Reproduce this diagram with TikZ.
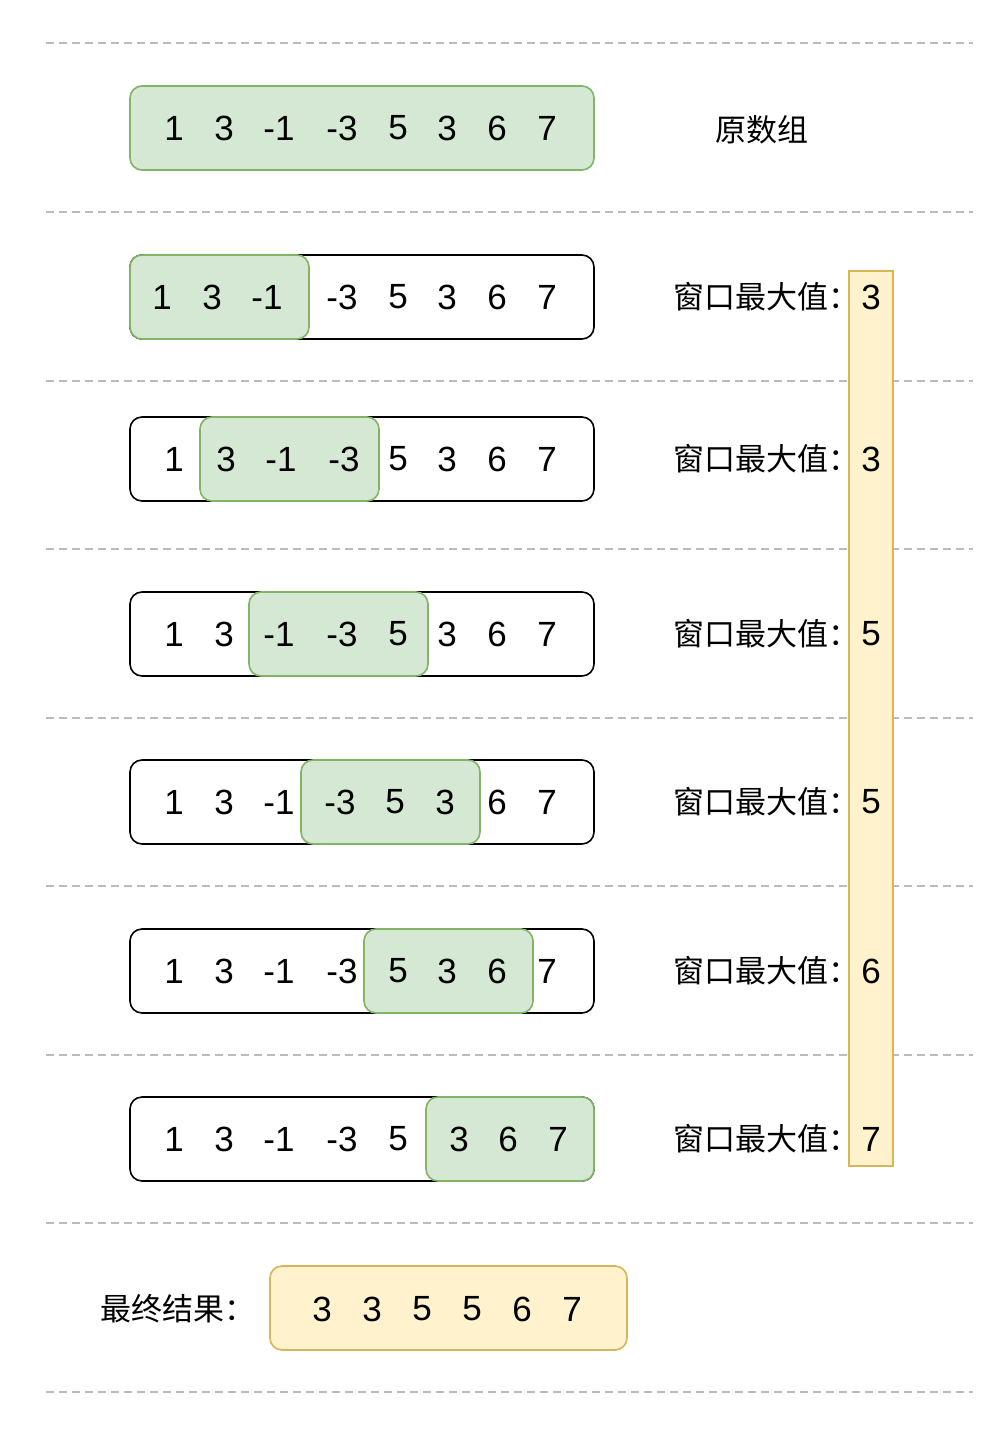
\documentclass[tikz,border=0pt]{standalone}
\usepackage{fontspec}
\setmainfont{Liberation Sans}
\newfontfamily\cjk{Noto Sans CJK SC}
\definecolor{gfill}{HTML}{D5E8D4}
\definecolor{gline}{HTML}{82B366}
\definecolor{yfill}{HTML}{FFF2CC}
\definecolor{yline}{HTML}{D6B656}
\definecolor{sepc}{HTML}{BBBBBB}
\tikzset{
  sepline/.style={draw=sepc, line width=1.5pt, dash pattern=on 8pt off 5pt},
  arrbox/.style={draw=black, fill=white, line width=1.6pt, rounded corners=12pt},
  winbox/.style={draw=gline, fill=gfill, line width=1.6pt, rounded corners=12pt},
  resbox/.style={draw=yline, fill=yfill, line width=1.6pt, rounded corners=12pt},
  colbox/.style={draw=yline, fill=yfill, line width=1.6pt},
  num/.style={font=\fontsize{35}{40}\selectfont, inner sep=0pt},
  lab/.style={font=\cjk\fontsize{31}{38}\selectfont, inner sep=0pt},
}
\begin{document}
\begin{tikzpicture}[x=1pt,y=-1pt]
\useasboundingbox (0,0) rectangle (1008,1438);
\fill[white] (0,0) rectangle (1008,1438);
% separators
\foreach \yy [count=\k] in {43,212,381,549,718,886,1055,1223,1392}
  \draw[sepline] (46,\yy) coordinate (sl\k) -- (973,\yy) coordinate (sr\k);
% row 1: original array
\draw[winbox] (130,86) rectangle (594,170);
\foreach \xx/\v [count=\i] in {174/1,224/3,279/-1,342/-3,398/5,447/3,497/6,547/7}
  \node[num] (r1n\i) at (\xx,128) {\v};
\node[lab] (orig) at (762,130) {原数组};
% window rows
\foreach \r/\yc/\wa/\wb/\pos in {
  2/297/130/309/{162,212,267,342,398,447,497,547},
  3/459/200/379/{174,226,281,344,398,447,497,547},
  4/634/249/428/{174,224,279,342,398,447,497,547},
  5/802/301/480/{174,224,279,340,395,445,497,547},
  6/971/364/533/{174,224,279,342,398,447,497,547},
  7/1139/426/594/{174,224,279,342,398,459,508,558}}{
  \draw[arrbox] (130,\yc-42) rectangle (594,\yc+42);
  \draw[winbox] (\wa,\yc-42) rectangle (\wb,\yc+42);
  \foreach \xx/\v [count=\i] in \pos {
    \pgfmathsetmacro\val{{"1","3","-1","-3","5","3","6","7"}[\i-1]}
    \node[num] (r\r n\i) at (\xx,\yc) {\val};
  }
}
% column of maxima
\draw[colbox] (849,271) rectangle (893,1166);
\foreach \r/\yc/\m in {2/297/3,3/459/3,4/634/5,5/802/5,6/971/6,7/1139/7}{
  \node[lab, anchor=west] (lab\r) at (673,\yc) {窗口最大值：};
  \node[num] (max\r) at (871,\yc) {\m};
}
% final result
\node[lab, anchor=west] (final) at (100,1309) {最终结果：};
\draw[resbox] (270,1266) rectangle (627,1350);
\foreach \xx/\v [count=\i] in {322/3,372/3,422/5,472/5,522/6,572/7}
  \node[num] (res\i) at (\xx,1309) {\v};
\end{tikzpicture}
\end{document}
